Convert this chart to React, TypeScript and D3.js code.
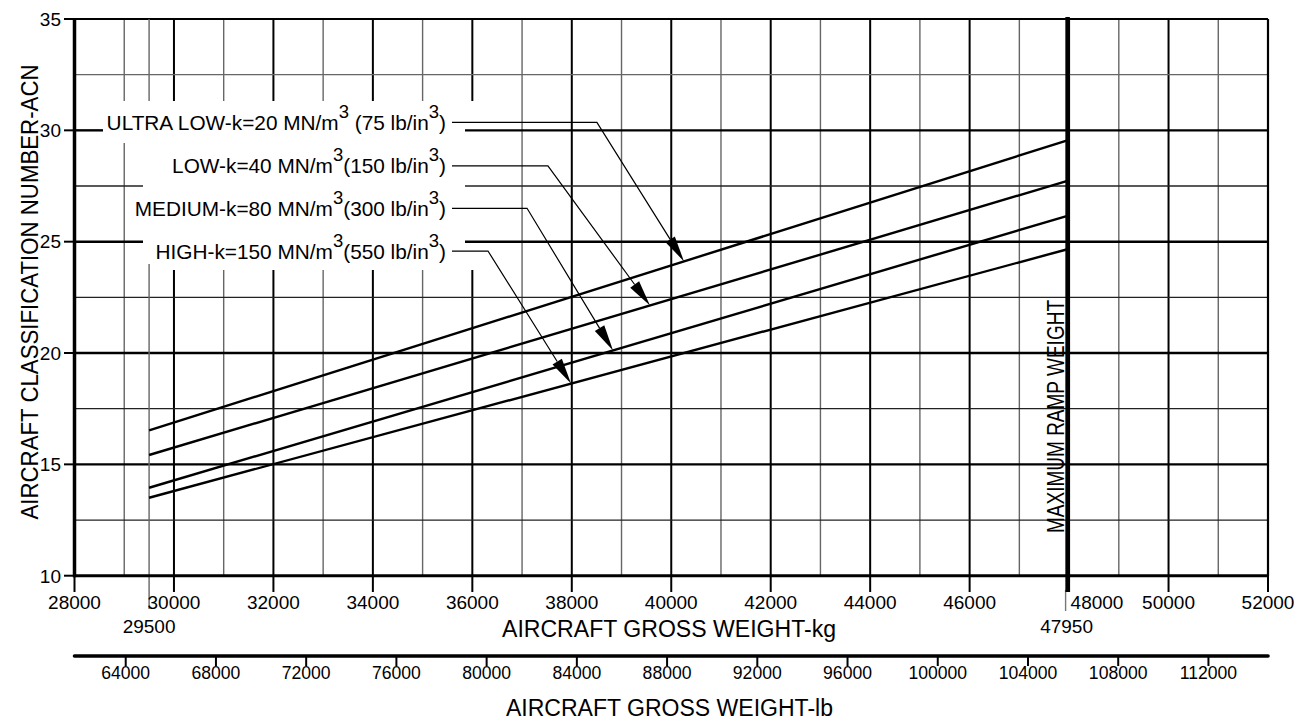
import React from "react";
import * as d3 from "d3";

// ---- data ----
const weightKg = [29500, 47950];
const acnUltraLow = [16.53, 29.54];
const acnLow = [15.42, 27.72];
const acnMedium = [13.95, 26.15];
const acnHigh = [13.5, 24.65];

const kgTicks = [28000, 30000, 32000, 34000, 36000, 38000, 40000, 42000, 44000, 46000, 48000, 50000, 52000];
const lbTicks = [64000, 68000, 72000, 76000, 80000, 84000, 88000, 92000, 96000, 100000, 104000, 108000, 112000];
const acnTicks = [10, 15, 20, 25, 30, 35];
const specialKg = [29500, 47950];

const labelMain = ["ULTRA LOW-k=20 MN/m", "LOW-k=40 MN/m", "MEDIUM-k=80 MN/m", "HIGH-k=150 MN/m"];
const labelPsi = [" (75 lb/in", "(150 lb/in", "(300 lb/in", "(550 lb/in"];
const labelLeaderAcn = [30.36, 28.4, 26.5, 24.58];
const labelBendKg = [38505, 37520, 37100, 36315];
const labelTipKg = [40256, 39573, 38829, 37984];

const seriesList = [acnUltraLow, acnLow, acnMedium, acnHigh];

const KG_PER_LB = 0.45359237;
const FONT = "'Liberation Sans', Arial, Helvetica, sans-serif";

export default function App() {
  const W = 1294, H = 725;
  const x = d3.scaleLinear().domain([28000, 52000]).range([74.5, 1268]);
  const y = d3.scaleLinear().domain([10, 35]).range([575.7, 19]);
  const xLb = d3.scaleLinear().domain([28000 / KG_PER_LB, 52000 / KG_PER_LB]).range([74.5, 1268]);

  const line = d3.line<number>().x((_, i) => x(weightKg[i])).y((d) => y(d));

  // grid lines with gaps behind the label block
  const vGrid: JSX.Element[] = [];
  d3.range(29000, 52000, 1000).forEach((v) => {
    const px = x(v);
    const major = v % 2000 === 0;
    const stroke = major ? "#000" : "#666";
    const sw = major ? 2 : 1.4;
    const segs: [number, number][] = [];
    if (px >= 103 && px < 143) segs.push([y(35), 101], [143, y(10)]);
    else if (px >= 143 && px <= 481) segs.push([y(35), 101], [270, y(10)]);
    else segs.push([y(35), y(10)]);
    segs.forEach((s, i) => (
      vGrid.push(<line key={`v${v}-${i}`} x1={px} x2={px} y1={s[0]} y2={s[1]} stroke={stroke} strokeWidth={sw} />)
    ));
  });
  const hGrid: JSX.Element[] = [];
  d3.range(12.5, 35, 2.5).forEach((v) => {
    const py = y(v);
    const major = v % 5 === 0;
    const stroke = major ? "#000" : (v === 32.5 ? "#666" : "#222");
    const sw = major ? 2.4 : 1.3;
    const segs: [number, number][] = [];
    if (py >= 100 && py < 143) segs.push([x(28000), 103], [465, x(52000)]);
    else if (py >= 143 && py <= 270) segs.push([x(28000), 143], [465, x(52000)]);
    else segs.push([x(28000), x(52000)]);
    segs.forEach((s, i) => (
      hGrid.push(<line key={`h${v}-${i}`} x1={s[0]} x2={s[1]} y1={py} y2={py} stroke={stroke} strokeWidth={sw} />)
    ));
  });

  const interp = (series: number[], kg: number) => {
    const t = (kg - weightKg[0]) / (weightKg[1] - weightKg[0]);
    return series[0] + t * (series[1] - series[0]);
  };

  const annotations = labelMain.map((m, i) => {
    const ly = y(labelLeaderAcn[i]);
    const bx = x(labelBendKg[i]);
    const tx = x(labelTipKg[i]);
    const ty = y(interp(seriesList[i], labelTipKg[i]));
    const dx = tx - bx, dy = ty - ly;
    const len = Math.hypot(dx, dy);
    const ux = dx / len, uy = dy / len;
    const L = 26, hw = 5.5;
    const baseX = tx - ux * L, baseY = ty - uy * L;
    const pts = [
      [tx, ty],
      [baseX - uy * hw, baseY + ux * hw],
      [baseX + uy * hw, baseY - ux * hw],
    ].map((p) => p.join(",")).join(" ");
    return (
      <g key={`ann${i}`}>
        <text x={446} y={ly + 7.5} textAnchor="end" fontFamily={FONT} fontSize={20.8} fill="#000">
          <tspan>{m}</tspan>
          <tspan dy={-12} fontSize={18.5}>3</tspan>
          <tspan dy={12}>{labelPsi[i]}</tspan>
          <tspan dy={-12} fontSize={18.5}>3</tspan>
          <tspan dy={12}>)</tspan>
        </text>
        <polyline points={`452,${ly} ${bx},${ly} ${baseX},${baseY}`} fill="none" stroke="#000" strokeWidth={1.2} />
        <polygon points={pts} fill="#000" />
      </g>
    );
  });

  return (
    <svg width={W} height={H} style={{ position: "absolute", left: 0, top: 0, background: "#fff" }}>
      <rect x={0} y={0} width={W} height={H} fill="#fff" />
      {vGrid}
      {hGrid}
      {/* borders */}
      <line x1={x(28000)} x2={x(52000)} y1={y(35)} y2={y(35)} stroke="#000" strokeWidth={2.2} />
      <line x1={x(52000)} x2={x(52000)} y1={y(35)} y2={y(10)} stroke="#000" strokeWidth={2.2} />

      {/* special weight lines */}
      <line x1={x(specialKg[0])} x2={x(specialKg[0])} y1={y(35)} y2={101} stroke="#666" strokeWidth={1.4} />
      <line x1={x(specialKg[0])} x2={x(specialKg[0])} y1={264} y2={609} stroke="#666" strokeWidth={1.4} />
      <line x1={x(specialKg[1]) - 1} x2={x(specialKg[1]) - 1} y1={590} y2={611} stroke="#777" strokeWidth={1.4} />
      <line x1={x(specialKg[1]) + 1} x2={x(specialKg[1]) + 1} y1={17} y2={592} stroke="#000" strokeWidth={4.5} />
      <text
        transform={`translate(${x(specialKg[1]) - 2.5},533) rotate(-90)`}
        fontFamily={FONT} fontSize={23} textLength={233} lengthAdjust="spacingAndGlyphs" fill="#000"
      >MAXIMUM RAMP WEIGHT</text>

      {/* series */}
      {seriesList.map((s, i) => (
        <path key={`s${i}`} d={line(s) || ""} fill="none" stroke="#000" strokeWidth={2.4} />
      ))}

      {annotations}

      {/* left axis */}
      <line x1={x(28000)} x2={x(28000)} y1={y(35) - 1} y2={y(10) + 1.5} stroke="#000" strokeWidth={3.5} />
      {acnTicks.map((t) => (
        <g key={`yt${t}`}>
          <line x1={64} x2={x(28000)} y1={y(t)} y2={y(t)} stroke="#000" strokeWidth={2} />
          <text x={61} y={y(t) + 6.8} textAnchor="end" fontFamily={FONT} fontSize={19} fill="#000">{t}</text>
        </g>
      ))}
      <text
        transform={`translate(38,292) rotate(-90)`} textAnchor="middle"
        fontFamily={FONT} fontSize={23} textLength={455} lengthAdjust="spacingAndGlyphs" fill="#000"
      >AIRCRAFT CLASSIFICATION NUMBER-ACN</text>

      {/* kg axis */}
      <line x1={x(28000) - 1.5} x2={x(52000) + 1} y1={y(10)} y2={y(10)} stroke="#000" strokeWidth={3} />
      {kgTicks.map((t) => (
        <g key={`kt${t}`}>
          <line x1={x(t)} x2={x(t)} y1={y(10)} y2={592} stroke="#000" strokeWidth={2} />
          <text
            x={t === 48000 ? x(t) + 1.5 : x(t)} y={609}
            textAnchor={t === 48000 ? "start" : "middle"}
            fontFamily={FONT} fontSize={19} fill="#000"
          >{t}</text>
        </g>
      ))}
      {specialKg.map((t) => (
        <text key={`sk${t}`} x={x(t)} y={633} textAnchor="middle" fontFamily={FONT} fontSize={19} fill="#000">{t}</text>
      ))}
      <text x={669} y={637} textAnchor="middle" fontFamily={FONT} fontSize={23} textLength={334} lengthAdjust="spacingAndGlyphs" fill="#000">AIRCRAFT GROSS WEIGHT-kg</text>

      {/* lb axis */}
      <line x1={xLb(28000 / KG_PER_LB)} x2={xLb(52000 / KG_PER_LB)} y1={656} y2={656} stroke="#000" strokeWidth={3.6} strokeLinecap="round" />
      {lbTicks.map((t) => (
        <g key={`lt${t}`}>
          <line x1={xLb(t)} x2={xLb(t)} y1={656} y2={666} stroke="#000" strokeWidth={2} />
          <text x={xLb(t)} y={679} textAnchor="middle" fontFamily={FONT} fontSize={17.6} fill="#000">{t}</text>
        </g>
      ))}
      <text x={669.5} y={716} textAnchor="middle" fontFamily={FONT} fontSize={23} textLength={327} lengthAdjust="spacingAndGlyphs" fill="#000">AIRCRAFT GROSS WEIGHT-lb</text>
    </svg>
  );
}
